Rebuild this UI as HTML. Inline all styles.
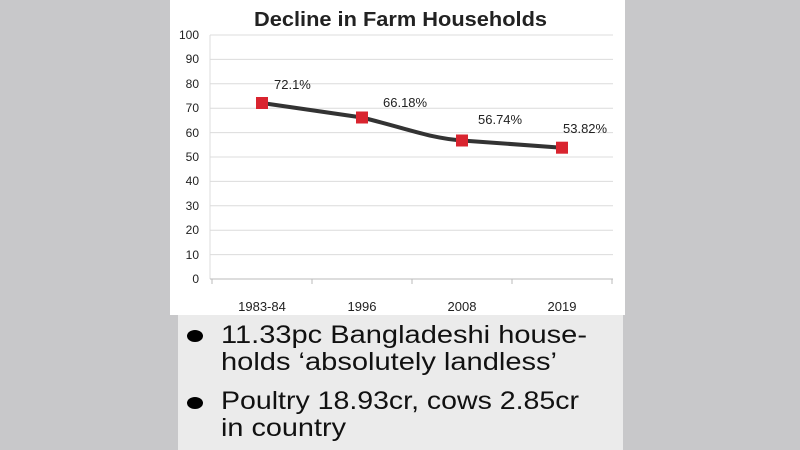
<!DOCTYPE html>
<html><head><style>
body{margin:0;width:800px;height:450px;background:#c8c8ca;overflow:hidden;position:relative;font-family:"Liberation Sans",sans-serif}
</style></head><body>
<svg width="800" height="450" style="position:absolute;left:0;top:0">
<rect x="170" y="0" width="455" height="315" fill="#fff"/>
<rect x="178" y="315" width="445" height="135" fill="#ebebeb"/>
<text x="254" y="26" font-size="20" font-weight="bold" fill="#222" textLength="293" lengthAdjust="spacingAndGlyphs">Decline in Farm Households</text>
<g stroke="#dcdcdc" stroke-width="1">
<line x1="210" x2="613" y1="35" y2="35"/><line x1="210" x2="613" y1="59.4" y2="59.4"/>
<line x1="210" x2="613" y1="83.8" y2="83.8"/><line x1="210" x2="613" y1="108.2" y2="108.2"/>
<line x1="210" x2="613" y1="132.6" y2="132.6"/><line x1="210" x2="613" y1="157" y2="157"/>
<line x1="210" x2="613" y1="181.4" y2="181.4"/><line x1="210" x2="613" y1="205.8" y2="205.8"/>
<line x1="210" x2="613" y1="230.2" y2="230.2"/><line x1="210" x2="613" y1="254.6" y2="254.6"/>
<line x1="210" x2="210" y1="35" y2="279"/>
</g>
<g stroke="#bbb"><line x1="210" x2="613" y1="279" y2="279"/>
<line x1="212" x2="212" y1="279" y2="284"/><line x1="312" x2="312" y1="279" y2="284"/><line x1="412" x2="412" y1="279" y2="284"/><line x1="512" x2="512" y1="279" y2="284"/><line x1="612" x2="612" y1="279" y2="284"/></g>
<g font-size="12" fill="#222" text-anchor="end">
<text x="199" y="39">100</text><text x="199" y="63">90</text><text x="199" y="88">80</text><text x="199" y="112">70</text><text x="199" y="137">60</text><text x="199" y="161">50</text><text x="199" y="185">40</text><text x="199" y="210">30</text><text x="199" y="234">20</text><text x="199" y="259">10</text><text x="199" y="283">0</text>
</g>
<g font-size="13" fill="#222" text-anchor="middle">
<text x="262" y="311">1983-84</text><text x="362" y="311">1996</text><text x="462" y="311">2008</text><text x="562" y="311">2019</text>
</g>
<path d="M262,103 L362,117.5 C412,130 430,138 462,140.5 L562,147.7" fill="none" stroke="#333" stroke-width="4"/>
<g fill="#d9242f"><rect x="256" y="97" width="12" height="12"/><rect x="356" y="111.5" width="12" height="12"/><rect x="456" y="134.5" width="12" height="12"/><rect x="556" y="141.7" width="12" height="12"/></g>
<g font-size="13" fill="#222">
<text x="274" y="89">72.1%</text><text x="383" y="107">66.18%</text><text x="478" y="124">56.74%</text><text x="563" y="133">53.82%</text>
</g>
<g fill="#000"><ellipse cx="195" cy="336" rx="8" ry="6"/><ellipse cx="195" cy="403" rx="8" ry="6"/></g>
<g font-size="25" fill="#111">
<text x="221" y="343" textLength="366" lengthAdjust="spacingAndGlyphs">11.33pc Bangladeshi house-</text>
<text x="221" y="370" textLength="336" lengthAdjust="spacingAndGlyphs">holds ‘absolutely landless’</text>
<text x="221" y="409" textLength="358" lengthAdjust="spacingAndGlyphs">Poultry 18.93cr, cows 2.85cr</text>
<text x="221" y="436" textLength="125" lengthAdjust="spacingAndGlyphs">in country</text>
</g>
</svg>
</body></html>
